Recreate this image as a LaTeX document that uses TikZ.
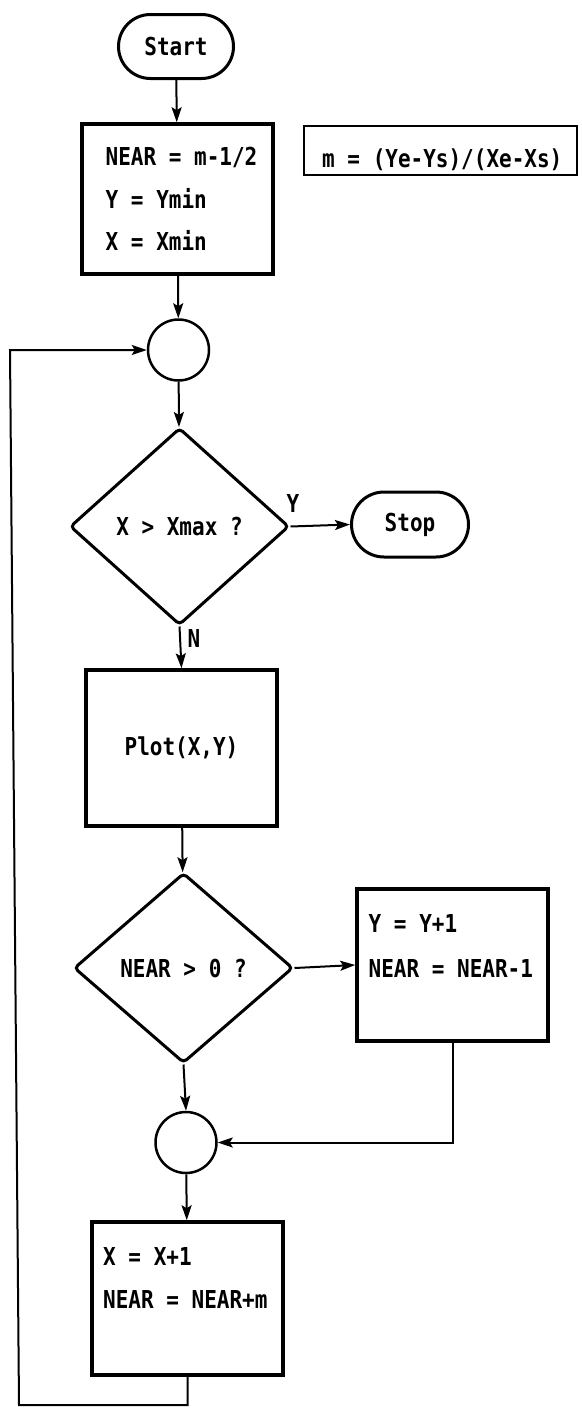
\documentclass[tikz,border=0pt]{standalone}
\usepackage{fontspec}
\newfontfamily\pix{DejaVu Sans Mono}[FakeStretch=0.85]
\usetikzlibrary{shapes.geometric,shapes.misc,arrows.meta}
\begin{document}
\begin{tikzpicture}[x=1pt,y=-1pt,
  every node/.style={font=\pix\bfseries\fontsize{24.7}{30}\selectfont, inner sep=0pt},
  term/.style={draw, rounded rectangle, line width=3pt, minimum width=115pt, minimum height=64pt},
  proc/.style={draw, rectangle, line width=3.5pt, minimum width=191pt},
  dec/.style={draw, diamond, line width=3pt, rounded corners=4pt},
  conn/.style={draw, circle, line width=2.5pt, minimum size=61pt},
  txt/.style={anchor=base west},
  lbl/.style={anchor=base},
  arr/.style={line width=2pt, -{Stealth[length=15pt,width=10pt,inset=3pt]}},
  ln/.style={line width=2pt}]
\useasboundingbox (0,0) rectangle (581,1408);
\fill[white] (0,0) rectangle (581,1408);

% nodes
\node[term] (start) at (176,46.5) {Start};
\node[proc, minimum height=150pt] (b1) at (177.5,199) {};
\node[txt] (t1a) at (105.5,165) {NEAR = m-1/2};
\node[txt] (t1b) at (105.5,208) {Y = Ymin};
\node[txt] (t1c) at (105.5,250) {X = Xmin};

\node[draw, line width=2pt, minimum width=273pt, minimum height=49pt] (fb) at (440.5,150.5) {};
\node[txt] (ft) at (322,167) {m = (Ye-Ys)/(Xe-Xs)};

\node[conn] (c1) at (178.5,350) {};
\node[dec, minimum width=219pt, minimum height=197pt] (d1) at (179.5,526.5) {X > Xmax ?};
\node[term, minimum width=117pt, minimum height=65pt] (stop) at (410,524.5) {Stop};
\node[lbl] (ly) at (293,512) {Y};
\node[lbl] (lnn) at (194,647) {N};

\node[proc, minimum height=156pt] (b2) at (181.5,748) {Plot(X,Y)};

\node[dec, minimum width=219pt, minimum height=190pt] (d2) at (183.5,968) {NEAR > 0 ?};

\node[proc, minimum height=152pt] (b3) at (452.5,965) {};
\node[txt] (t3a) at (368.5,932) {Y = Y+1};
\node[txt] (t3b) at (368.5,977) {NEAR = NEAR-1};

\node[conn] (c2) at (186,1142.5) {};

\node[proc, minimum height=153pt] (b4) at (187.5,1298.5) {};
\node[txt] (t4a) at (103,1265) {X = X+1};
\node[txt] (t4b) at (103,1308) {NEAR = NEAR+m};

\coordinate (lb) at (19,1405);
\coordinate (lt) at (10,350);

% connectors
\draw[arr] (start) -- (b1);
\draw[arr] (b1) -- (c1);
\draw[arr] (c1) -- (d1);
\draw[arr] (d1.east) -- (stop.west);
\draw[arr] (d1.south) -- (b2.north);
\draw[arr] (b2) -- (d2);
\draw[arr] (d2.east) -- (b3.west);
\draw[arr] (d2.south) -- (c2.north);
\draw[arr] (b3.south) |- (c2.east);
\draw[arr] (c2) -- (b4);
\draw[arr] (b4.south) |- (lb) -- (lt) -- (c1.west);
\end{tikzpicture}
\end{document}
